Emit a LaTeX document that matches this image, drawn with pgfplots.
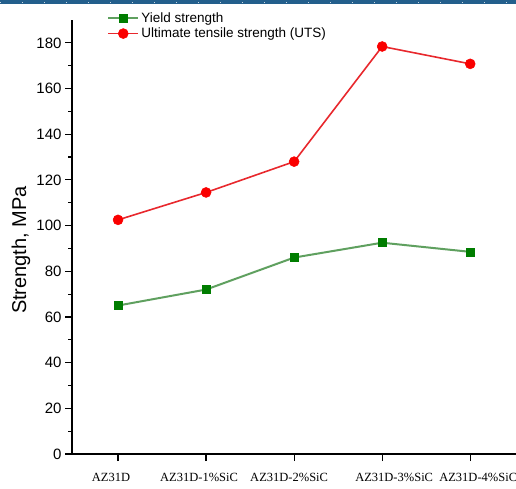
\documentclass[border=0pt]{standalone}
\usepackage{fontspec}
\setmainfont{Liberation Sans}
\newfontfamily\seriffont{Liberation Serif}
\usepackage{pgfplots}
\pgfplotsset{compat=1.18}
\definecolor{hdr}{RGB}{35,95,140}
\definecolor{utsline}{RGB}{232,40,45}
\definecolor{utsmark}{RGB}{250,0,0}
\definecolor{ysline}{RGB}{95,160,95}
\definecolor{ysmark}{RGB}{0,125,0}
\begin{document}
\begin{tikzpicture}
\path[use as bounding box] (0pt,0pt) rectangle (516pt,-489pt);
\fill[hdr] (0pt,0pt) rectangle (516pt,-4pt);
\draw[white!75!hdr, line width=1pt, dash pattern=on 1pt off 21pt] (0pt,-3pt) -- (516pt,-3pt);
\begin{axis}[
  at={(72pt,-454pt)}, anchor=south west,
  scale only axis, width=444pt, height=434pt,
  xmin=-0.523, xmax=4.52, ymin=0, ymax=190,
  axis x line=bottom, axis y line=left,
  axis line style={line width=1.2pt, black, -},
  xtick={0,1,2,3,4},
  xticklabels={AZ31D\hspace*{14pt}, AZ31D-1\%SiC\hspace*{14pt}, AZ31D-2\%SiC\hspace*{10pt}, \hspace*{24pt}AZ31D-3\%SiC, \hspace*{16pt}AZ31D-4\%SiC},
  x tick label style={font=\seriffont\fontsize{12.5}{14}\selectfont, yshift=-9pt},
  ytick={0,20,...,180}, minor y tick num=1,
  tick align=outside, major tick length=7pt, minor tick length=4pt,
  tick style={line width=1.2pt, black},
  y tick label style={font=\fontsize{15}{17}\selectfont},
  /pgf/number format/assume math mode=true,
  ylabel={Strength, MPa},
  ylabel style={font=\fontsize{20}{22}\selectfont, at={(axis description cs:-0.115,0.47)}, anchor=center},
  clip=false,
  legend cell align=left,
  legend style={at={(axis description cs:0.079,1.022)}, anchor=north west, draw=none, fill=none,
    font=\fontsize{13.5}{16}\selectfont, row sep=0pt, inner sep=0pt},
  legend image code/.code={\draw[mark repeat=2,mark phase=2,#1] plot coordinates {(0pt,0pt)(15pt,0pt)(30pt,0pt)};},
]
\addplot[color=ysline, line width=2pt, mark=square*, mark size=4pt, mark options={fill=ysmark, draw=ysmark, line width=0.5pt}]
  coordinates {(0,65) (1,72) (2,86) (3,92.5) (4,88.5)};
\addlegendentry{Yield strength}
\addplot[color=utsline, line width=1.6pt, mark=*, mark size=5pt, mark options={fill=utsmark, draw=utsmark, line width=0.5pt}]
  coordinates {(0,102.5) (1,114.5) (2,128) (3,178.4) (4,170.8)};
\addlegendentry{Ultimate tensile strength (UTS)}
\end{axis}
\end{tikzpicture}
\end{document}
